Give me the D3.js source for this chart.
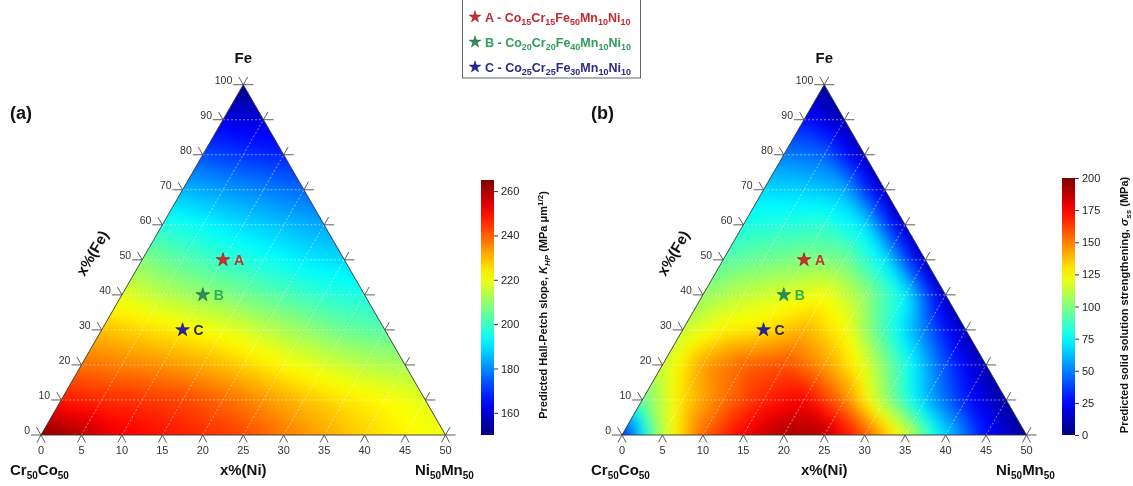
<!DOCTYPE html>
<html>
<head>
<meta charset="utf-8">
<script src="https://cdn.jsdelivr.net/npm/d3@7"></script>
<style>
  body { margin: 0; background: #fff; }
  #wrap { position: relative; width: 1133px; height: 486px; }
  canvas, svg { position: absolute; left: 0; top: 0; }
  text { font-family: "Liberation Sans", Arial, sans-serif; }
</style>
</head>
<body>
<div id="wrap">
  <canvas id="heat" width="1133" height="486"></canvas>
  <svg id="chart" width="1133" height="486"></svg>
</div>
<script>
// ---------------- DATA ----------------
// rows = x%(Fe) 0,10,...,100 ; within a row: Ni50Mn50 fraction 0,10,... up to (100 - Fe)
const feLevels = [0, 10, 20, 30, 40, 50, 60, 70, 80, 90, 100];

// (a) predicted Hall-Petch slope K_HP (MPa um^1/2)
const kHP = [
  [265, 259, 252, 249, 246, 243, 237, 232, 227, 223, 220],
  [248, 246, 245, 243, 239, 234, 229, 225, 222, 219],
  [238, 236, 234, 231, 227, 222, 218, 214, 212],
  [229, 226, 223, 220, 215, 210, 205, 203],
  [219, 214, 210, 206, 202, 198, 196],
  [208, 203, 199, 195, 191, 189],
  [197, 193, 189, 186, 183],
  [185, 182, 179, 176],
  [173, 170, 168],
  [162, 160],
  [151]
];

// (b) predicted solid solution strengthening sigma_ss (MPa)
const sigmaSS = [
  [25, 112, 155, 177, 192, 190, 160, 120, 68, 28, 4],
  [95, 132, 152, 168, 176, 150, 105, 62, 30, 6],
  [115, 144, 156, 160, 145, 120, 82, 40, 8],
  [114, 127, 131, 140, 125, 87, 48, 10],
  [104, 113, 118, 124, 105, 75, 12],
  [92, 97, 100, 98, 72, 12],
  [80, 82, 84, 70, 12],
  [68, 66, 60, 12],
  [50, 45, 12],
  [28, 10],
  [5]
];

const niTicks = [0, 5, 10, 15, 20, 25, 30, 35, 40, 45, 50];
const feTicks = [0, 10, 20, 30, 40, 50, 60, 70, 80, 90, 100];
const kTicks = [160, 180, 200, 220, 240, 260];
const sTicks = [0, 25, 50, 75, 100, 125, 150, 175, 200];

const alloyIds = ["A", "B", "C"];
const alloyFe = [50, 40, 30];
const alloyNiMn = [20, 20, 20];   // Ni + Mn content, at.%
const alloyFormula = [
  ["Co", "15", "Cr", "15", "Fe", "50", "Mn", "10", "Ni", "10"],
  ["Co", "20", "Cr", "20", "Fe", "40", "Mn", "10", "Ni", "10"],
  ["Co", "25", "Cr", "25", "Fe", "30", "Mn", "10", "Ni", "10"]
];
const starFill = ["#d62c2c", "#2e8f5e", "#24249e"];
const starStroke = ["#7a1818", "#1c5a3a", "#121258"];
const labelColor = ["#c8302c", "#30b04a", "#2b2b3b"];
const legendColor = ["#c42a2e", "#2e9e58", "#2a2a8a"];

// ---------------- SETUP ----------------
const svg = d3.select("#chart");
const ctx = document.getElementById("heat").getContext("2d");
const baseY = 435;
const side = 404.5;
const triH = side * Math.sqrt(3) / 2;

function jet(lo, hi) {
  const d = [0, 0.125, 0.375, 0.625, 0.875, 1].map(t => lo + t * (hi - lo));
  return d3.scaleLinear().domain(d)
    .range(["#00007f", "#0000ff", "#00ffff", "#ffff00", "#ff0000", "#7f0000"])
    .clamp(true);
}

// value on the triangular lattice (10 % steps), linear inside each lattice triangle
function latticeValue(grid, f, n) {
  let a = Math.max(0, Math.min(10, f * 10));
  let b = Math.max(0, Math.min(10 - a, n * 10));
  let i = Math.floor(a), j = Math.floor(b);
  if (i > 9) i = 9;
  if (j > 9 - i) j = Math.max(0, 9 - i);
  const fa = a - i, fb = b - j;
  const g = (r, c) => (grid[r] && grid[r][c] != null) ? grid[r][c] : grid[r][grid[r].length - 1];
  if (fa + fb <= 1) {
    return g(i, j) * (1 - fa - fb) + g(i + 1, j) * fa + g(i, j + 1) * fb;
  }
  return g(i + 1, j + 1) * (fa + fb - 1) + g(i + 1, j) * (1 - fb) + g(i, j + 1) * (1 - fa);
}

function sub(textSel, parts, big, small, shift) {
  parts.forEach((p, k) => {
    const isSub = k % 2 === 1;
    textSel.append("tspan")
      .attr("font-size", isSub ? small : big)
      .attr("dy", isSub ? shift : (k === 0 ? 0 : -shift))
      .text(p);
  });
}

const panels = [
  { x0: 41, grid: kHP, dom: [150, 265], ticks: kTicks, tag: "(a)", cbX: 481, cbTop: 180 },
  { x0: 622, grid: sigmaSS, dom: [0, 200], ticks: sTicks, tag: "(b)", cbX: 1062, cbTop: 178 }
];

panels.forEach((P, pi) => {
  const xs = d3.scaleLinear().domain([0, 1]).range([P.x0, P.x0 + side]);
  const ys = d3.scaleLinear().domain([0, 1]).range([baseY, baseY - triH]);
  const color = jet(P.dom[0], P.dom[1]);
  const pt = (f, n) => [xs(n + f / 2), ys(f)];

  // heat field: drawn a bit past the edges, softened, then clipped to the triangle
  const m = 24;
  const x1 = Math.floor(P.x0) - m, x2 = Math.ceil(P.x0 + side) + m;
  const y1 = Math.floor(baseY - triH) - m, y2 = Math.ceil(baseY) + m;
  const off = document.createElement("canvas");
  off.width = x2 - x1; off.height = y2 - y1;
  const octx = off.getContext("2d");
  const img = octx.createImageData(x2 - x1, y2 - y1);
  for (let py = y1; py < y2; py++) {
    const f = ys.invert(py + 0.5);
    for (let px = x1; px < x2; px++) {
      const n = xs.invert(px + 0.5) - f / 2;
      const v = latticeValue(P.grid, f, n);
      const rgb = d3.rgb(color(v));
      const k = ((py - y1) * (x2 - x1) + (px - x1)) * 4;
      img.data[k] = rgb.r; img.data[k + 1] = rgb.g; img.data[k + 2] = rgb.b; img.data[k + 3] = 255;
    }
  }
  octx.putImageData(img, 0, 0);
  const corners = [pt(0, 0), pt(0, 1), pt(1, 0)];
  ctx.save();
  ctx.beginPath();
  corners.forEach((c, k) => k ? ctx.lineTo(c[0], c[1]) : ctx.moveTo(c[0], c[1]));
  ctx.closePath();
  ctx.clip();
  ctx.filter = "blur(7px)";
  ctx.drawImage(off, x1, y1);
  ctx.restore();

  const g = svg.append("g");

  // grid lines
  const gridG = g.append("g").attr("stroke", "#fff").attr("stroke-width", 0.7)
    .attr("stroke-dasharray", "2,2").attr("opacity", 0.75);
  feTicks.slice(1, -1).forEach(fe => {
    const f = fe / 100, a = pt(f, 0), b = pt(f, 1 - f);
    gridG.append("line").attr("x1", a[0]).attr("y1", a[1]).attr("x2", b[0]).attr("y2", b[1]);
  });
  niTicks.slice(1, -1).forEach(ni => {
    const n = ni / 50, a = pt(0, n), b = pt(1 - n, n);
    gridG.append("line").attr("x1", a[0]).attr("y1", a[1]).attr("x2", b[0]).attr("y2", b[1]);
  });

  // triangle outline
  g.append("path").attr("d", d3.line()(corners) + "Z")
    .attr("fill", "none").attr("stroke", "#333").attr("stroke-width", 0.9);

  // ticks
  const tk = g.append("g").attr("stroke", "#333").attr("stroke-width", 0.8);
  const seg = (x, y, dx, dy) => tk.append("line").attr("x1", x).attr("y1", y).attr("x2", x + dx).attr("y2", y + dy);
  feTicks.forEach(fe => {
    const f = fe / 100;
    const [lx, ly] = pt(f, 0);
    seg(lx, ly, -10, 0); seg(lx, ly, -4.5, -7.8);
    g.append("text").attr("x", lx - 11).attr("y", ly - 1).attr("text-anchor", "end")
      .attr("font-size", 10.5).attr("fill", "#333").text(fe);
    const [rx, ry] = pt(f, 1 - f);
    seg(rx, ry, 10, 0); seg(rx, ry, 4.5, -7.8);
  });
  niTicks.forEach(ni => {
    const [bx, by] = pt(0, ni / 50);
    seg(bx, by, -4, 7.5); seg(bx, by, 4, 7.5);
    g.append("text").attr("x", bx).attr("y", by + 19).attr("text-anchor", "middle")
      .attr("font-size", 11).attr("fill", "#333").text(ni);
  });

  // axis titles
  const top = pt(1, 0);
  g.append("text").attr("x", top[0]).attr("y", 63).attr("text-anchor", "middle")
    .attr("font-size", 15).attr("font-weight", "bold").attr("fill", "#111").text("Fe");
  g.append("text").attr("x", P.x0 - 31).attr("y", 119)
    .attr("font-size", 18).attr("font-weight", "bold").attr("fill", "#111").text(P.tag);
  g.append("text").attr("transform", `translate(${P.x0 + 51},253) rotate(-60)`)
    .attr("text-anchor", "middle").attr("dominant-baseline", "central")
    .attr("font-size", 15).attr("font-weight", "bold").attr("fill", "#111").text("x%(Fe)");
  g.append("text").attr("x", xs(0.5)).attr("y", 475).attr("text-anchor", "middle")
    .attr("font-size", 15).attr("font-weight", "bold").attr("fill", "#111").text("x%(Ni)");
  const leftLab = g.append("text").attr("x", P.x0 - 31).attr("y", 475)
    .attr("font-size", 15).attr("font-weight", "bold").attr("fill", "#111");
  sub(leftLab, ["Cr", "50", "Co", "50"], 15, 10, 4);
  const rightLab = g.append("text").attr("x", P.x0 + 374).attr("y", 475)
    .attr("font-size", 15).attr("font-weight", "bold").attr("fill", "#111");
  sub(rightLab, ["Ni", "50", "Mn", "50"], 15, 10, 4);

  // alloys
  alloyIds.forEach((id, k) => {
    const [sx, sy] = pt(alloyFe[k] / 100, alloyNiMn[k] / 100);
    g.append("path").attr("d", d3.symbol(d3.symbolStar, 58)())
      .attr("transform", `translate(${sx},${sy})`)
      .attr("fill", starFill[k]).attr("stroke", starStroke[k]).attr("stroke-width", 0.6);
    g.append("text").attr("x", sx + 11).attr("y", sy + 5)
      .attr("font-size", 14).attr("font-weight", "bold").attr("fill", labelColor[k]).text(id);
  });

  // colour bar
  const cb = d3.scaleLinear().domain(P.dom).range([baseY, P.cbTop]);
  const gid = "grad" + pi;
  const grad = svg.append("defs").append("linearGradient").attr("id", gid)
    .attr("x1", 0).attr("y1", 1).attr("x2", 0).attr("y2", 0);
  d3.range(0, 1.0001, 0.05).forEach(t => {
    grad.append("stop").attr("offset", t)
      .attr("stop-color", color(P.dom[0] + t * (P.dom[1] - P.dom[0])));
  });
  svg.append("rect").attr("x", P.cbX).attr("y", P.cbTop).attr("width", 13)
    .attr("height", baseY - P.cbTop).attr("fill", `url(#${gid})`);
  const ax = svg.append("g").attr("transform", `translate(${P.cbX + 13},0)`)
    .call(d3.axisRight(cb).tickValues(P.ticks).tickSize(4).tickSizeOuter(0).tickPadding(3));
  ax.select(".domain").remove();
  ax.selectAll("line").attr("stroke", "#333");
  ax.selectAll("text").attr("font-family", "'DejaVu Sans', sans-serif")
    .attr("font-size", 11).attr("fill", "#222");

  const tx = P.cbX + 66, ty = 305;
  const title = svg.append("text").attr("transform", `translate(${tx},${ty}) rotate(-90)`)
    .attr("text-anchor", "middle").attr("font-size", 11).attr("font-weight", "bold").attr("fill", "#111");
  if (pi === 0) {
    title.append("tspan").text("Predicted Hall-Petch slope, ");
    title.append("tspan").attr("font-style", "italic").text("K");
    title.append("tspan").attr("font-style", "italic").attr("font-size", 8).attr("dy", 3).text("HP");
    title.append("tspan").attr("dy", -3).text(" (MPa μm");
    title.append("tspan").attr("font-size", 8).attr("dy", -4).text("1/2");
    title.append("tspan").attr("dy", 4).text(")");
  } else {
    title.append("tspan").text("Predicted solid solution strengthening, ");
    title.append("tspan").attr("font-style", "italic").text("σ");
    title.append("tspan").attr("font-style", "italic").attr("font-size", 8).attr("dy", 3).text("ss");
    title.append("tspan").attr("dy", -3).text(" (MPa)");
  }
});

// ---------------- LEGEND ----------------
const leg = svg.append("g");
leg.append("rect").attr("x", 462.5).attr("y", -1).attr("width", 178).attr("height", 79)
  .attr("fill", "#fff").attr("stroke", "#666").attr("stroke-width", 1);
alloyIds.forEach((id, k) => {
  const ly = 17 + k * 25;
  leg.append("path").attr("d", d3.symbol(d3.symbolStar, 42)())
    .attr("transform", `translate(475,${ly})`)
    .attr("fill", starFill[k]).attr("stroke", starStroke[k]).attr("stroke-width", 0.5);
  const t = leg.append("text").attr("x", 485).attr("y", ly + 4.5)
    .attr("font-size", 12.5).attr("font-weight", "bold").attr("fill", legendColor[k]);
  t.append("tspan").text(id + " - ");
  alloyFormula[k].forEach((p, m) => {
    const isSub = m % 2 === 1;
    t.append("tspan").attr("font-size", isSub ? 9 : 12.5)
      .attr("dy", isSub ? 3 : (m === 0 ? 0 : -3)).text(p);
  });
});
</script>
</body>
</html>
